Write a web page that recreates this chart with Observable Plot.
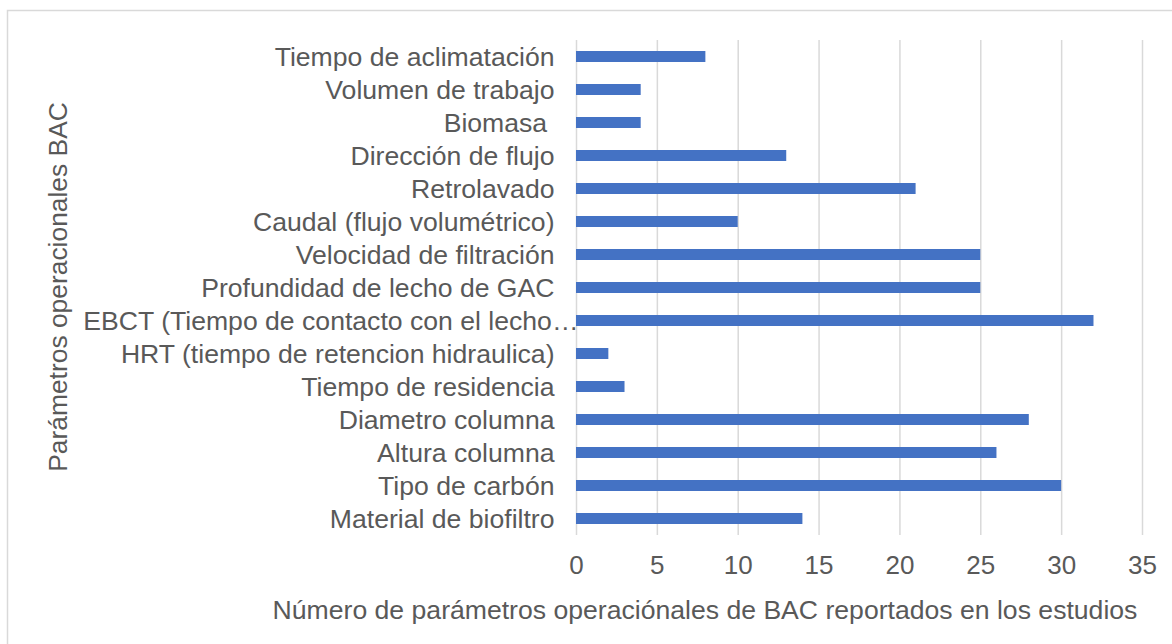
<!DOCTYPE html>
<html>
<head>
<meta charset="utf-8">
<script src="https://cdn.jsdelivr.net/npm/d3@7"></script>
<script src="https://cdn.jsdelivr.net/npm/@observablehq/plot@0.6"></script>
<style>
  html, body { margin: 0; padding: 0; background: #fff; }
  #chart { width: 1172px; height: 644px; }
</style>
</head>
<body>
<div id="chart"></div>
<script>
const categories = [
  "Tiempo de aclimatación",
  "Volumen de trabajo",
  "Biomasa ",
  "Dirección de flujo",
  "Retrolavado",
  "Caudal (flujo volumétrico)",
  "Velocidad de filtración",
  "Profundidad de lecho de GAC",
  "EBCT (Tiempo de contacto con el lecho…",
  "HRT (tiempo de retencion hidraulica)",
  "Tiempo de residencia",
  "Diametro columna",
  "Altura columna",
  "Tipo de carbón",
  "Material de biofiltro"
];
const values = [8, 4, 4, 13, 21, 10, 25, 25, 32, 2, 3, 28, 26, 30, 14];
const xTicks = [0, 5, 10, 15, 20, 25, 30, 35];
const xTitle = "Número de parámetros operaciónales de BAC reportados en los estudios";
const yTitle = "Parámetros operacionales BAC";

const data = categories.map((c, i) => ({category: c, value: values[i]}));
const FONT = "'Liberation Sans', Arial, sans-serif";
const FS = 26.6;

const chart = Plot.plot({
  width: 1172,
  height: 644,
  marginLeft: 576,
  marginRight: 30,
  marginTop: 40,
  marginBottom: 109,
  style: {fontFamily: FONT, color: "#595959", background: "#fff"},
  x: {domain: [0, 35], ticks: xTicks},
  y: {domain: categories, paddingInner: 0.667, paddingOuter: 0.333},
  marks: [
    Plot.ruleX(xTicks, {stroke: "#d9d9d9", strokeWidth: 1.5}),
    Plot.barX(data, {x: "value", y: "category", fill: "#4472C4"}),
    Plot.axisX({ticks: xTicks, tickSize: 0, tickPadding: 20, fontSize: 26, label: null}),
    Plot.axisY({tickSize: 0, tickPadding: 22, fontSize: FS, label: null})
  ]
});

document.getElementById("chart").appendChild(chart);

const svg = d3.select(chart);

// the truncated EBCT label overflows towards the axis, as in the original
svg.selectAll("text").filter(function() {
  return this.textContent.startsWith("EBCT");
}).each(function() {
  const t = this.getAttribute("transform") || "";
  this.setAttribute("transform", t + " translate(24,0)");
});

svg.append("rect")
  .attr("x", 7.5).attr("y", 10.5)
  .attr("width", 1172).attr("height", 700)
  .attr("fill", "none").attr("stroke", "#d9d9d9").attr("stroke-width", 1.5);

svg.append("text")
  .attr("x", 705).attr("y", 619)
  .attr("text-anchor", "middle")
  .attr("font-family", FONT).attr("font-size", FS).attr("fill", "#595959")
  .text(xTitle);

svg.append("text")
  .attr("transform", "translate(67,287) rotate(-90)")
  .attr("text-anchor", "middle")
  .attr("font-family", FONT).attr("font-size", 26.4).attr("fill", "#595959")
  .text(yTitle);
</script>
</body>
</html>
